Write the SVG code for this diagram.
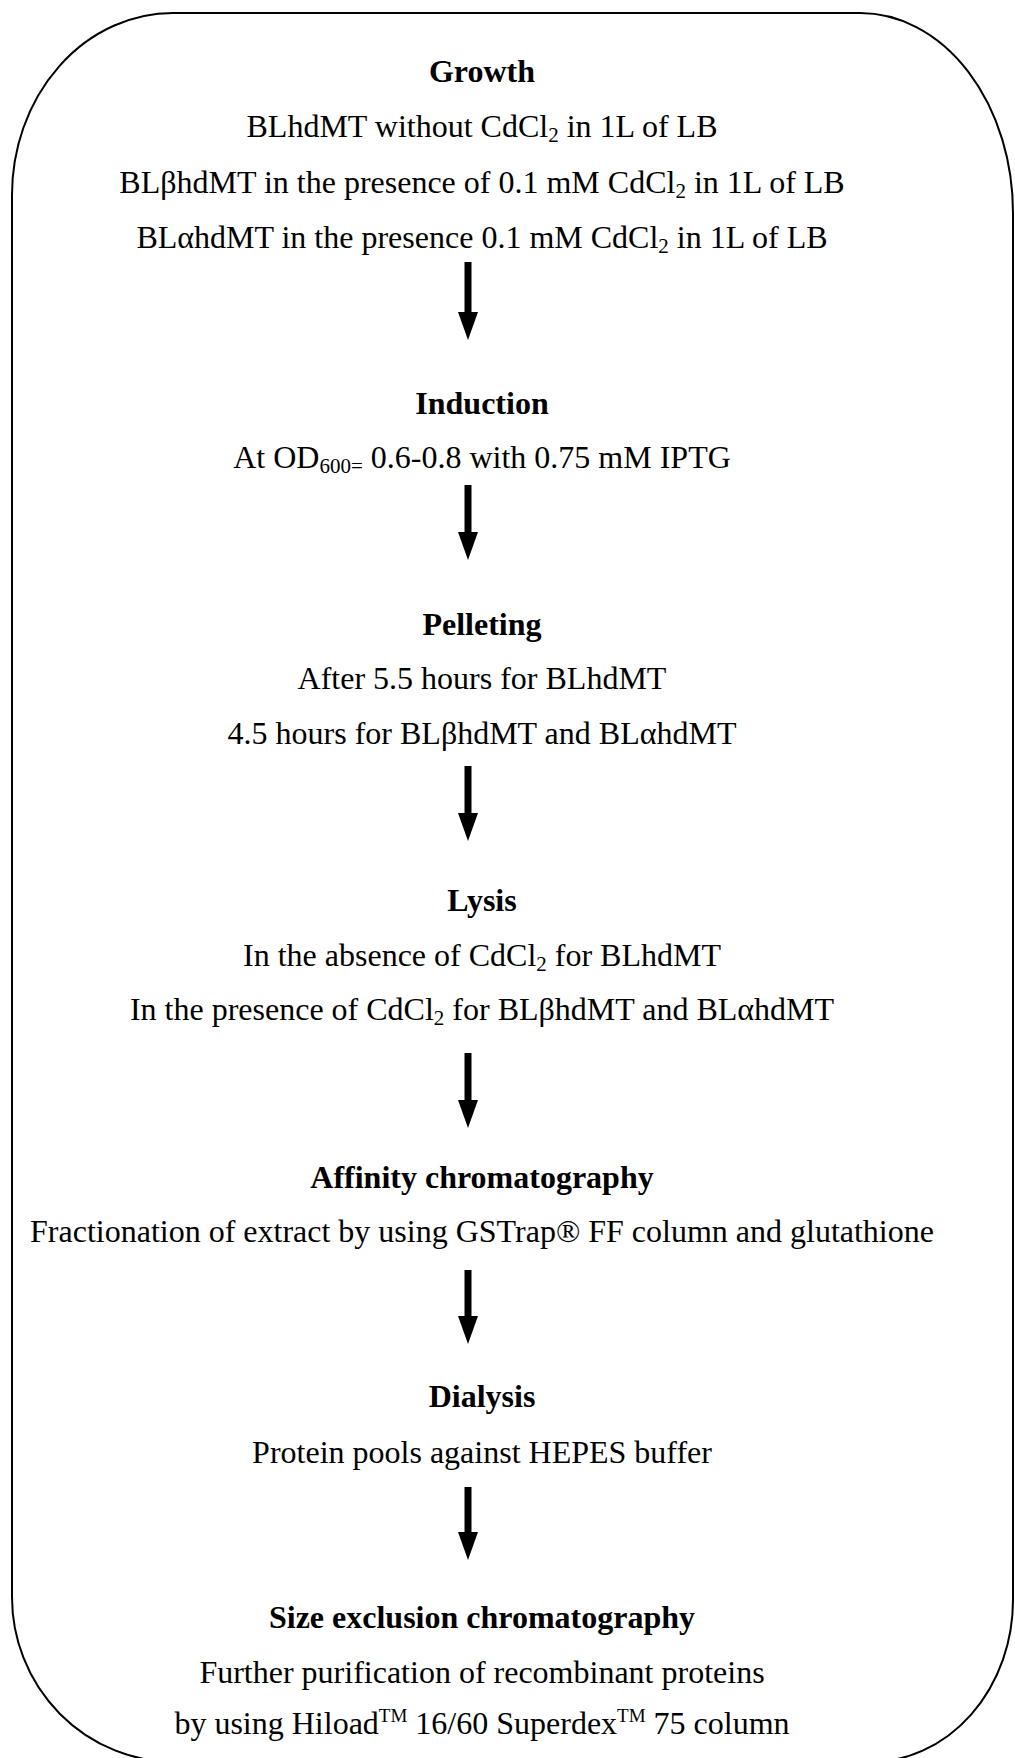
<svg xmlns="http://www.w3.org/2000/svg" width="1015" height="1758" viewBox="0 0 1015 1758">
<style>
  .t { font-family: "Liberation Serif", "Times New Roman", serif; font-size: 32px; fill: #000; text-anchor: middle; }
  .h { font-weight: bold; }
  .sub { font-size: 21px; }
  .sup { font-size: 19px; }
  .conn line { stroke: #000; stroke-width: 7; }
  .frame { fill: none; stroke: #000; stroke-width: 2; }
</style>
<defs>
  <marker id="ah" viewBox="0 0 28 20" refX="0" refY="10" markerWidth="28" markerHeight="20" markerUnits="userSpaceOnUse" orient="auto">
    <path d="M0,0 L28,10 L0,20 Z" fill="#000"/>
  </marker>
</defs>
<rect width="1015" height="1758" fill="#fff"/>
<path class="frame" d="M173,13 H860 A153,200 0 0 1 1013,213 V1600 A143,162 0 0 1 870,1762 H175 A163,165 0 0 1 12,1597 V195 A161,182 0 0 1 173,13 Z"/>

<g id="growth">
  <text class="t h" x="482" y="82">Growth</text>
  <text class="t" x="482" y="137">BLhdMT without CdCl<tspan class="sub" dy="5">2</tspan><tspan dy="-5"> in 1L of LB</tspan></text>
  <text class="t" x="482" y="193">BLβhdMT in the presence of 0.1 mM CdCl<tspan class="sub" dy="5">2</tspan><tspan dy="-5"> in 1L of LB</tspan></text>
  <text class="t" x="482" y="248">BLαhdMT in the presence 0.1 mM CdCl<tspan class="sub" dy="5">2</tspan><tspan dy="-5"> in 1L of LB</tspan></text>
</g>
<g id="induction">
  <text class="t h" x="482" y="414">Induction</text>
  <text class="t" x="482" y="468">At OD<tspan class="sub" dy="5">600=</tspan><tspan dy="-5"> 0.6-0.8 with 0.75 mM IPTG</tspan></text>
</g>
<g id="pelleting">
  <text class="t h" x="482" y="635">Pelleting</text>
  <text class="t" x="482" y="689">After 5.5 hours for BLhdMT</text>
  <text class="t" x="482" y="744">4.5 hours for BLβhdMT and BLαhdMT</text>
</g>
<g id="lysis">
  <text class="t h" x="482" y="911">Lysis</text>
  <text class="t" x="482" y="966">In the absence of CdCl<tspan class="sub" dy="5">2</tspan><tspan dy="-5"> for BLhdMT</tspan></text>
  <text class="t" x="482" y="1020">In the presence of CdCl<tspan class="sub" dy="5">2</tspan><tspan dy="-5"> for BLβhdMT and BLαhdMT</tspan></text>
</g>
<g id="affinity">
  <text class="t h" x="482" y="1188">Affinity chromatography</text>
  <text class="t" x="482" y="1242">Fractionation of extract by using GSTrap® FF column and glutathione</text>
</g>
<g id="dialysis">
  <text class="t h" x="482" y="1407">Dialysis</text>
  <text class="t" x="482" y="1463">Protein pools against HEPES buffer</text>
</g>
<g id="sec">
  <text class="t h" x="482" y="1628">Size exclusion chromatography</text>
  <text class="t" x="482" y="1683">Further purification of recombinant proteins</text>
  <text class="t" x="482" y="1734">by using Hiload<tspan class="sup" dy="-12">TM</tspan><tspan dy="12"> 16/60 Superdex</tspan><tspan class="sup" dy="-12">TM</tspan><tspan dy="12"> 75 column</tspan></text>
</g>

<g id="connectors" class="conn">
  <line x1="468" y1="262" x2="468" y2="312" marker-end="url(#ah)"/>
  <line x1="468" y1="485" x2="468" y2="532" marker-end="url(#ah)"/>
  <line x1="468" y1="766" x2="468" y2="813" marker-end="url(#ah)"/>
  <line x1="468" y1="1053" x2="468" y2="1100" marker-end="url(#ah)"/>
  <line x1="468" y1="1270" x2="468" y2="1316" marker-end="url(#ah)"/>
  <line x1="468" y1="1487" x2="468" y2="1532" marker-end="url(#ah)"/>
</g>
</svg>
